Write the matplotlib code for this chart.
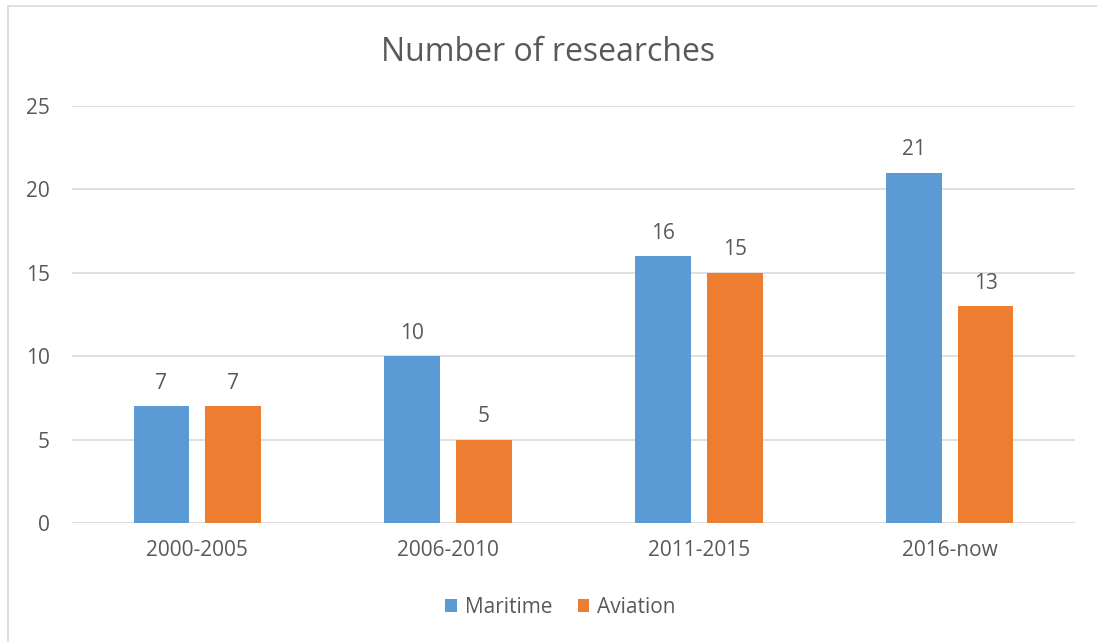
import numpy as np
import matplotlib.pyplot as plt
from matplotlib.patches import Rectangle

# data
periods = ['2000-2005', '2006-2010', '2011-2015', '2016-now']
maritime = [7, 10, 16, 21]
aviation = [7, 5, 15, 13]

blue = '#5b9bd5'
orange = '#ed7d31'
txt = '#595959'
grid = '#d9d9d9'

plt.rcParams['font.family'] = ['Open Sans', 'DejaVu Sans']

fig = plt.figure(figsize=(10.97, 6.42), dpi=100)
ax = fig.add_axes([0.0656, 0.1854, 0.9144, 0.6496])

# outer chart border
fig.patches.append(Rectangle((0.007, -0.01), 1.0, 1.0, transform=fig.transFigure,
                             fill=False, edgecolor=grid, linewidth=1.2))

x = np.arange(len(periods))
w = 0.223
off = 0.143
b1 = ax.bar(x - off, maritime, w, color=blue, label='Maritime', zorder=3)
b2 = ax.bar(x + off, aviation, w, color=orange, label='Aviation', zorder=3)

for bars in (b1, b2):
    for r in bars:
        ax.text(r.get_x() + r.get_width() / 2, r.get_height() + 0.75, f'{int(r.get_height())}',
                ha='center', va='bottom', fontsize=15, color=txt)

ax.set_xlim(-0.5, len(periods) - 0.5)
ax.set_ylim(0, 25)
ax.set_yticks(range(0, 26, 5))
ax.set_xticks(x)
ax.set_xticklabels(periods)
ax.yaxis.grid(True, color=grid, linewidth=1.2, zorder=0)
ax.tick_params(axis='both', length=0, labelsize=15, labelcolor=txt)
ax.tick_params(axis='y', pad=16)
ax.tick_params(axis='x', pad=12)
for s in ax.spines.values():
    s.set_visible(False)
ax.axhline(0, color=grid, linewidth=1.2, zorder=1)

fig.text(0.5, 0.918, 'Number of researches', ha='center', va='center', fontsize=23, color=txt)

fig.legend(loc='center', bbox_to_anchor=(0.511, 0.054), ncol=2, frameon=False, fontsize=15,
           labelcolor=txt, handlelength=0.55, handleheight=0.55, handletextpad=0.4, columnspacing=1.2)

fig.savefig('out.png', dpi=100)
